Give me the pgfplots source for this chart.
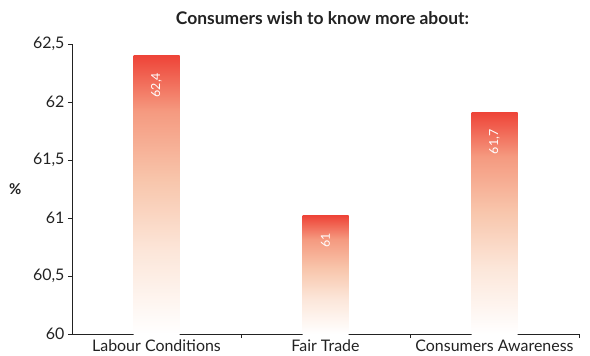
\documentclass[border=0pt]{standalone}
\usepackage{pgfplots}
\pgfplotsset{compat=1.18}
\usepackage{fontspec}
\setmainfont{Lato}
\definecolor{axcol}{HTML}{222222}
\definecolor{c1}{HTML}{FCE6D9}
\definecolor{c2}{HTML}{F8C6AC}
\definecolor{c3}{HTML}{F59A80}
\definecolor{c4}{HTML}{EE4438}
\pgfdeclareverticalshading{barshade}{100bp}{color(0bp)=(white); color(25bp)=(white); color(40bp)=(c1); color(52.5bp)=(c2); color(65bp)=(c3); color(75bp)=(c4); color(100bp)=(c4)}
\begin{document}
\begin{tikzpicture}
\begin{axis}[
  name=ax,
  scale only axis,
  width=507bp, height=290bp,
  xmin=-0.5, xmax=2.5,
  ymin=60, ymax=62.5,
  axis lines*=left,
  axis line style={axcol, line width=0.9pt},
  ybar, bar width=46bp, bar shift=0pt,
  xtick={0,1,2},
  xticklabels={Labour Conditions, Fair Trade, Consumers Awareness},
  major x tick style={draw=none},
  minor xtick={0.5,1.5,2.5},
  minor x tick style={axcol, line width=0.8pt},
  minor tick length=4bp,
  ytick={60,60.5,61,61.5,62,62.5},
  yticklabels={60,{60,5},61,{61,5},62,{62,5}},
  major y tick style={axcol, line width=0.8pt},
  major tick length=4bp,
  tick align=outside,
  ticklabel style={font=\fontsize{16}{18}\selectfont, text=axcol},
  xticklabel style={yshift=2bp},
  ylabel={\%},
  ylabel style={rotate=-90, font=\fontsize{15}{17}\selectfont\bfseries, text=axcol, xshift=-5bp},
  title={Consumers wish to know more about:},
  title style={font=\fontsize{17.5}{19}\selectfont\bfseries, text=axcol, yshift=10bp, xshift=-3bp},
  clip=false,
  point meta=explicit symbolic,
  nodes near coords,
  every node near coord/.style={rotate=90, anchor=east, inner xsep=0pt, xshift=-17bp, text=white, font=\fontsize{12.5}{14}\selectfont},
]
\addplot[draw=none, shading=barshade] coordinates {(0,62.4) [{62,4}]};
\addplot[draw=none, shading=barshade] coordinates {(1,61.02) [61]};
\addplot[draw=none, shading=barshade] coordinates {(2,61.91) [{61,7}]};
\end{axis}
\pgfresetboundingbox
\path ([shift={(-72bp,-22bp)}]ax.south west) rectangle ([shift={(11bp,44bp)}]ax.north east);
\end{tikzpicture}
\end{document}
